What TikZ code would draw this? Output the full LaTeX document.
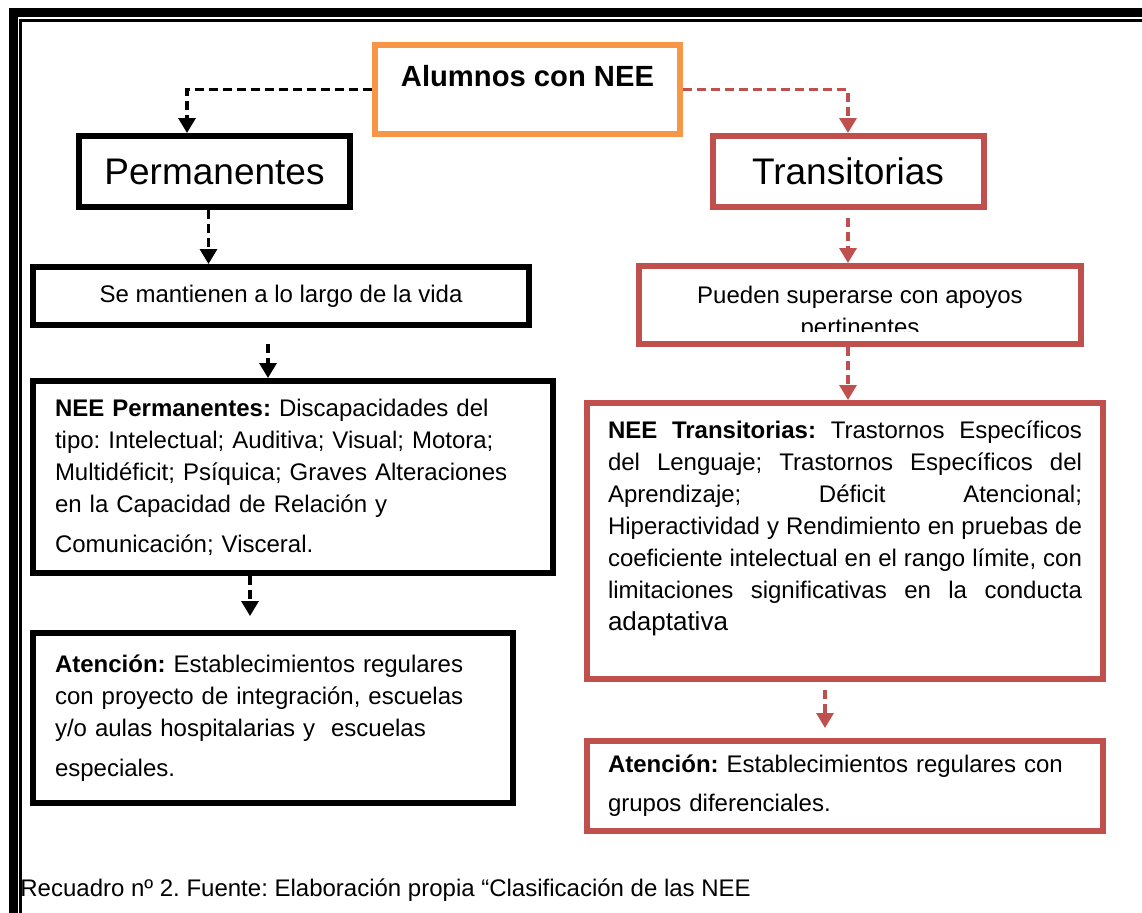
\documentclass[tikz,border=0pt]{standalone}
\usepackage{fontspec}
\setmainfont{Liberation Sans}
\usepackage{tikz}
\usetikzlibrary{positioning,arrows.meta}
\frenchspacing
\definecolor{neeorange}{HTML}{F79646}
\definecolor{neered}{HTML}{C0504D}
\tikzstyle{titlebox} = [rectangle, draw, line width=3pt, inner sep=0pt,
                        align=center, font=\fontsize{18.5}{22}\selectfont]
\tikzstyle{txtbox}   = [rectangle, draw, line width=3pt, inner xsep=11pt,
                        inner ysep=0pt, align=left, font=\fontsize{12}{16}\selectfont]
\tikzstyle{ptr}      = [draw, line width=1.6pt, dash pattern=on 4.5pt off 2.5pt,
                        -{Triangle[width=8.5pt,length=7.5pt]}]
\tikzstyle{ptrred}   = [ptr, neered]
\begin{document}
\begin{tikzpicture}[auto]
		\useasboundingbox (0,0) rectangle (571pt,-456pt);
		\clip (0,0) rectangle (571pt,-456pt);
		\draw[line width=4.5pt] (6.5pt,-470pt) -- (6.5pt,-6.25pt) -- (590pt,-6.25pt);
		\draw[line width=1.25pt] (10.25pt,-470pt) -- (10.25pt,-10.25pt) -- (590pt,-10.25pt);

		\node[titlebox, draw=neeorange, font=\bfseries\fontsize{14.6}{17}\selectfont,
			minimum width=152.5pt, minimum height=44.5pt, text depth=13.5pt] (alumnos) at (263.75pt,-44.75pt) {Alumnos con NEE};
		\node[titlebox, minimum width=135.5pt, minimum height=35.5pt, below of=alumnos, node distance=41pt, xshift=-156.5pt] (perm) {Permanentes};
		\node[titlebox, draw=neered, minimum width=135.5pt, minimum height=35.5pt, right of=perm, node distance=316.75pt] (trans) {Transitorias};
		\node[txtbox, align=center, inner xsep=0pt, minimum width=248pt, minimum height=29pt, below of=perm, node distance=62.25pt, xshift=33.25pt] (mantiene) {Se mantienen a lo largo de la vida};
		\node[txtbox, draw=neered, minimum width=221pt, minimum height=39pt, below of=trans, node distance=66.75pt, xshift=6pt] (pueden) {};
		\begin{scope}
			\clip (pueden.north west) rectangle ([yshift=-13pt]pueden.east);
			\node[align=center, inner sep=0pt, font=\fontsize{12}{16}\selectfont] (puedentxt) at ([yshift=-4pt]pueden.center) {Pueden superarse con apoyos\\pertinentes};
		\end{scope}
		\node[txtbox, text width=238pt, minimum height=96pt, below of=mantiene, node distance=90.5pt, xshift=6pt] (neeperm)
			{\textbf{NEE Permanentes:} Discapacidades del\\
			 tipo: Intelectual; Auditiva; Visual; Motora;\\
			 Multidéficit; Psíquica; Graves Alteraciones\\
			 en la Capacidad de Relación y\\[4pt]
			 Comunicación; Visceral{\large.}};
		\node[txtbox, text width=218pt, minimum height=85pt, below of=neeperm, node distance=120.5pt, xshift=-10pt] (atenperm)
			{\textbf{Atención:} Establecimientos regulares\\
			 con proyecto de integración, escuelas\\
			 y/o aulas hospitalarias y\ \ escuelas\\[4pt]
			 especiales{\large.}};
		\node[txtbox, draw=neered, text width=237pt, inner xsep=10.5pt, minimum height=138pt, align=justify, below of=pueden, node distance=118pt, xshift=-7.5pt] (neetrans)
			{\tolerance=10000 \textbf{NEE Transitorias:} Trastornos Específicos\linebreak
			 del Lenguaje; Trastornos Específicos del\linebreak
			 Aprendizaje; Déficit Atencional;\linebreak
			 Hiperactividad y Rendimiento en pruebas de\linebreak
			 coeficiente intelectual en el rango límite, con\linebreak
			 limitaciones significativas en la conducta\linebreak
			 {\fontsize{13}{16}\selectfont adaptativa}\rule[-15pt]{0pt}{15pt}};
		\node[txtbox, draw=neered, text width=237pt, inner xsep=10.5pt, minimum height=45pt, below of=neetrans, node distance=122.5pt] (atentrans)
			{\textbf{Atención:} Establecimientos regulares con\\[3.5pt]
			 grupos diferenciales{\large.}};
		\node[anchor=west, inner sep=0pt, font=\fontsize{12}{16}\selectfont] (fuente) at (10pt,-445pt)
			{Recuadro nº 2. Fuente: Elaboración propia “Clasificación de las NEE};

		\coordinate (pl) at ([xshift=-13.75pt]perm.north);
		\coordinate (ps) at ([xshift=-3pt]perm.south);
		\coordinate (ms) at ([xshift=-6.5pt]mantiene.south);
		\coordinate (ns) at ([xshift=-21.5pt]neeperm.south);
		\coordinate (ts) at ([xshift=-10pt]neetrans.south);

		\draw[ptr] (alumnos.west) -| (pl);
		\draw[ptrred] (alumnos.east) -| (trans.north);
		\draw[ptr] (ps) -- (ps |- mantiene.north);
		\draw[ptrred, shorten <=4pt] (trans.south) -- (trans.south |- pueden.north);
		\draw[ptr, shorten <=8pt] (ms) -- (ms |- neeperm.north);
		\draw[ptrred] (trans.south |- pueden.south) -- (trans.south |- neetrans.north);
		\draw[ptr, shorten >=7pt] (ns) -- (ns |- atenperm.north);
		\draw[ptrred, shorten <=4pt, shorten >=5pt] (ts) -- (ts |- atentrans.north);
	\end{tikzpicture}
\end{document}
